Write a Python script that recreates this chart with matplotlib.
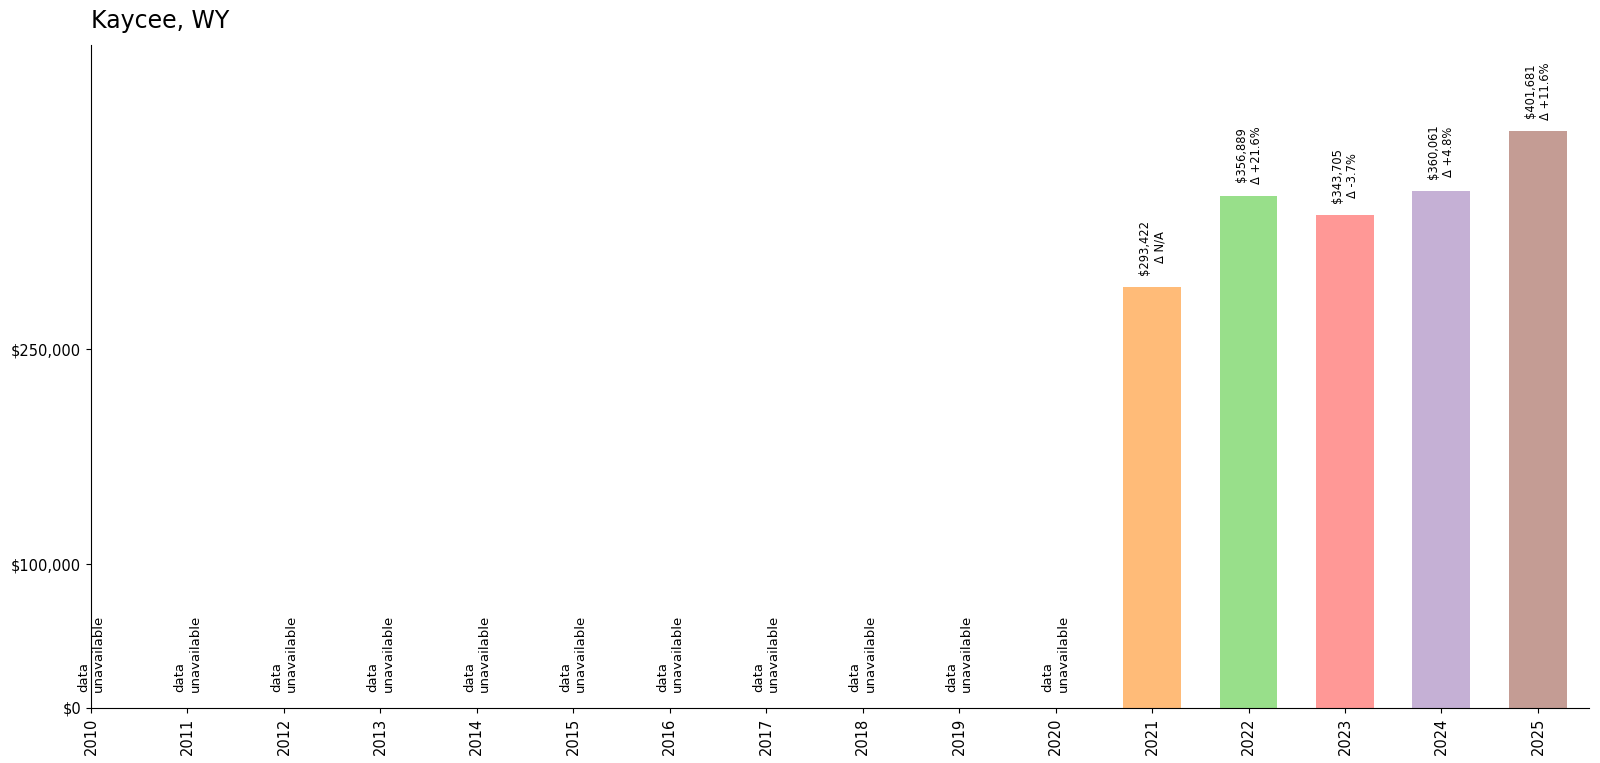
import matplotlib
matplotlib.use("Agg")
from matplotlib import pyplot as plt

years = list(range(2010, 2026))
values = [None] * 11 + [293422, 356889, 343705, 360061, 401681]
changes = ["N/A", "+21.6%", "-3.7%", "+4.8%", "+11.6%"]
bar_colors = ["#ffbb78", "#98df8a", "#ff9896", "#c5b0d5", "#c49c94"]
ytick_values = [0, 100000, 250000]
ytick_labels = ["$0", "$100,000", "$250,000"]

fig = plt.figure(figsize=(16, 7.63), dpi=100)
ax = fig.add_axes([91 / 1600, 55 / 763, 1498 / 1600, 663 / 763])

known = [(i, v) for i, v in enumerate(values) if v is not None]
ymax = max(v for _, v in known) * 1.15

for k, (i, v) in enumerate(known):
    ax.bar(i, v, width=0.6, color=bar_colors[k])
    ax.text(i, v + ymax * 0.018, f"${v:,}\nΔ {changes[k]}", rotation=90,
            ha="center", va="bottom", fontsize=8.3, multialignment="center")

for i, v in enumerate(values):
    if v is None:
        ax.text(i, ymax * 0.024, "data\nunavailable", rotation=90,
                ha="center", va="bottom", fontsize=9.5, multialignment="left")

ax.set_xlim(0, len(years) - 0.47)
ax.set_ylim(0, ymax)
ax.set_xticks(range(len(years)))
ax.set_xticklabels([str(y) for y in years], rotation=90)
ax.set_yticks(ytick_values)
ax.set_yticklabels(ytick_labels)
ax.tick_params(labelsize=10.5)
ax.spines["top"].set_visible(False)
ax.spines["right"].set_visible(False)
ax.set_title("Kaycee, WY", loc="left", fontsize=17, pad=12)

fig.savefig("out.png", dpi=100)
